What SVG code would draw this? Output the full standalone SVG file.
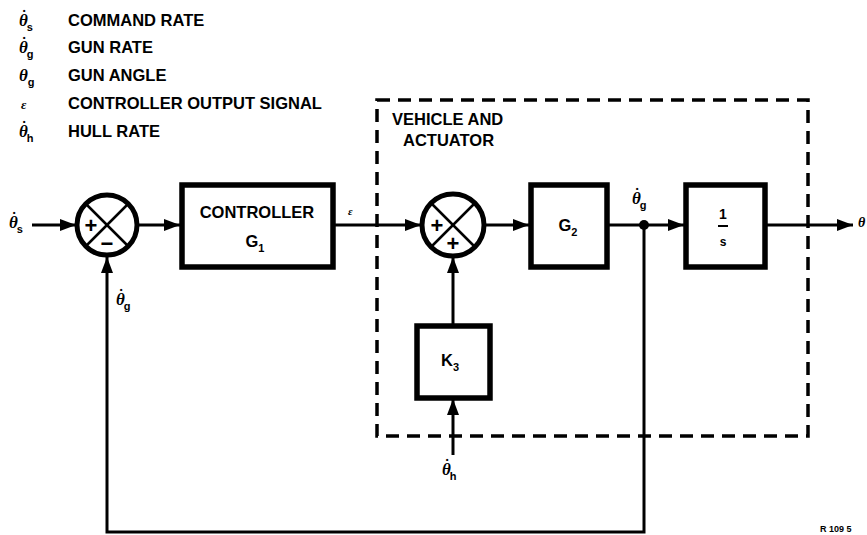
<svg xmlns="http://www.w3.org/2000/svg" width="867" height="535" viewBox="0 0 867 535">
<style>
.lbl{font-family:"Liberation Sans",Arial,sans-serif;font-weight:bold;font-size:16.5px;fill:#000}
.sym{font-family:"Liberation Serif","DejaVu Serif",serif;font-style:italic;font-weight:bold;font-size:17px;fill:#000}
.sub{font-family:"Liberation Sans",Arial,sans-serif;font-style:normal;font-weight:bold;font-size:11px}
.dt{font-family:"Liberation Sans",Arial,sans-serif;font-style:normal;font-size:8px}
.box{fill:#fff;stroke:#000;stroke-width:5.5}
.sum{fill:#fff;stroke:#000;stroke-width:5}
.x{stroke:#000;stroke-width:2.5}
.wire{fill:none;stroke:#000;stroke-width:3}
.sign{font-family:"Liberation Sans",Arial,sans-serif;font-weight:bold;font-size:22px;text-anchor:middle}
.mid{text-anchor:middle}
</style>
<defs>
<marker id="arr" markerUnits="userSpaceOnUse" markerWidth="16" markerHeight="12" refX="16" refY="6" orient="auto">
<path d="M0,0 L16,6 L0,12 Z" fill="#000"/>
</marker>
</defs>

<g id="legend">
<text class="sym" x="19" y="26">θ<tspan class="dt" dx="-5" dy="-13">•</tspan><tspan class="sub" dx="1" dy="18">s</tspan></text>
<text class="lbl" x="68" y="26">COMMAND RATE</text>
<text class="sym" x="19" y="53">θ<tspan class="dt" dx="-5" dy="-13">•</tspan><tspan class="sub" dx="1" dy="18">g</tspan></text>
<text class="lbl" x="68" y="53">GUN RATE</text>
<text class="sym" x="19" y="81">θ<tspan class="sub" dy="5">g</tspan></text>
<text class="lbl" x="68" y="81">GUN ANGLE</text>
<text class="sym" x="21" y="109" style="font-size:13px">ε</text>
<text class="lbl" x="68" y="109">CONTROLLER OUTPUT SIGNAL</text>
<text class="sym" x="19" y="137">θ<tspan class="dt" dx="-5" dy="-13">•</tspan><tspan class="sub" dx="1" dy="18">h</tspan></text>
<text class="lbl" x="68" y="137">HULL RATE</text>
</g>

<g id="vehicle-actuator">
<rect x="377" y="100" width="431" height="336" fill="none" stroke="#000" stroke-width="3.5" stroke-dasharray="13,8"/>
<text class="lbl" x="392" y="125">VEHICLE AND</text>
<text class="lbl" x="403" y="146">ACTUATOR</text>
</g>

<g id="connectors">
<path class="wire" d="M32,225 H76" marker-end="url(#arr)"/>
<path class="wire" d="M137,225 H180" marker-end="url(#arr)"/>
<path class="wire" d="M333,225 H421" marker-end="url(#arr)"/>
<path class="wire" d="M484,225 H529" marker-end="url(#arr)"/>
<path class="wire" d="M607,225 H684" marker-end="url(#arr)"/>
<path class="wire" d="M765,225 H853" marker-end="url(#arr)"/>
<path class="wire" d="M644,225 V532 H107 V257" marker-end="url(#arr)"/>
<path class="wire" d="M453,326 V257" marker-end="url(#arr)"/>
<path class="wire" d="M453,455 V399" marker-end="url(#arr)"/>
<circle cx="644" cy="225" r="5" fill="#000"/>
</g>

<g id="sum1">
<circle class="sum" cx="107" cy="225" r="30"/>
<line class="x" x1="86" y1="204" x2="128" y2="246"/>
<line class="x" x1="128" y1="204" x2="86" y2="246"/>
<text class="sign" x="91" y="233">+</text>
<text class="sign" x="107" y="251">−</text>
</g>

<g id="controller">
<rect class="box" x="182" y="185" width="151" height="82"/>
<text class="lbl mid" x="257" y="218">CONTROLLER</text>
<text class="lbl mid" x="255" y="247">G<tspan class="sub" dy="5">1</tspan></text>
</g>

<g id="sum2">
<circle class="sum" cx="453" cy="225" r="31"/>
<line class="x" x1="431" y1="203" x2="475" y2="247"/>
<line class="x" x1="475" y1="203" x2="431" y2="247"/>
<text class="sign" x="437" y="233">+</text>
<text class="sign" x="453" y="251">+</text>
</g>

<g id="g2">
<rect class="box" x="531" y="185" width="76" height="82"/>
<text class="lbl mid" x="568" y="231">G<tspan class="sub" dy="5">2</tspan></text>
</g>

<g id="integrator">
<rect class="box" x="686" y="185" width="79" height="82"/>
<text class="lbl mid" x="723" y="219" style="font-size:14px">1</text>
<line x1="718" y1="226" x2="728" y2="226" stroke="#000" stroke-width="2"/>
<text class="lbl mid" x="723" y="246" style="font-size:12px">s</text>
</g>

<g id="k3">
<rect class="box" x="417" y="326" width="73" height="72"/>
<text class="lbl mid" x="450" y="366">K<tspan class="sub" dy="5">3</tspan></text>
</g>

<g id="signal-labels">
<text class="sym" x="9" y="228">θ<tspan class="dt" dx="-5" dy="-13">•</tspan><tspan class="sub" dx="1" dy="18">s</tspan></text>
<text class="sym" x="116" y="305">θ<tspan class="dt" dx="-5" dy="-13">•</tspan><tspan class="sub" dx="1" dy="18">g</tspan></text>
<text class="sym" x="348" y="215" style="font-size:11px">ε</text>
<text class="sym" x="632" y="204">θ<tspan class="dt" dx="-5" dy="-13">•</tspan><tspan class="sub" dx="1" dy="18">g</tspan></text>
<text class="sym" x="858" y="227" style="font-size:14px">θ</text>
<text class="sym" x="442" y="475">θ<tspan class="dt" dx="-5" dy="-13">•</tspan><tspan class="sub" dx="1" dy="18">h</tspan></text>
<text class="lbl" x="820" y="532" style="font-size:9px">R 109 5</text>
</g>
</svg>
